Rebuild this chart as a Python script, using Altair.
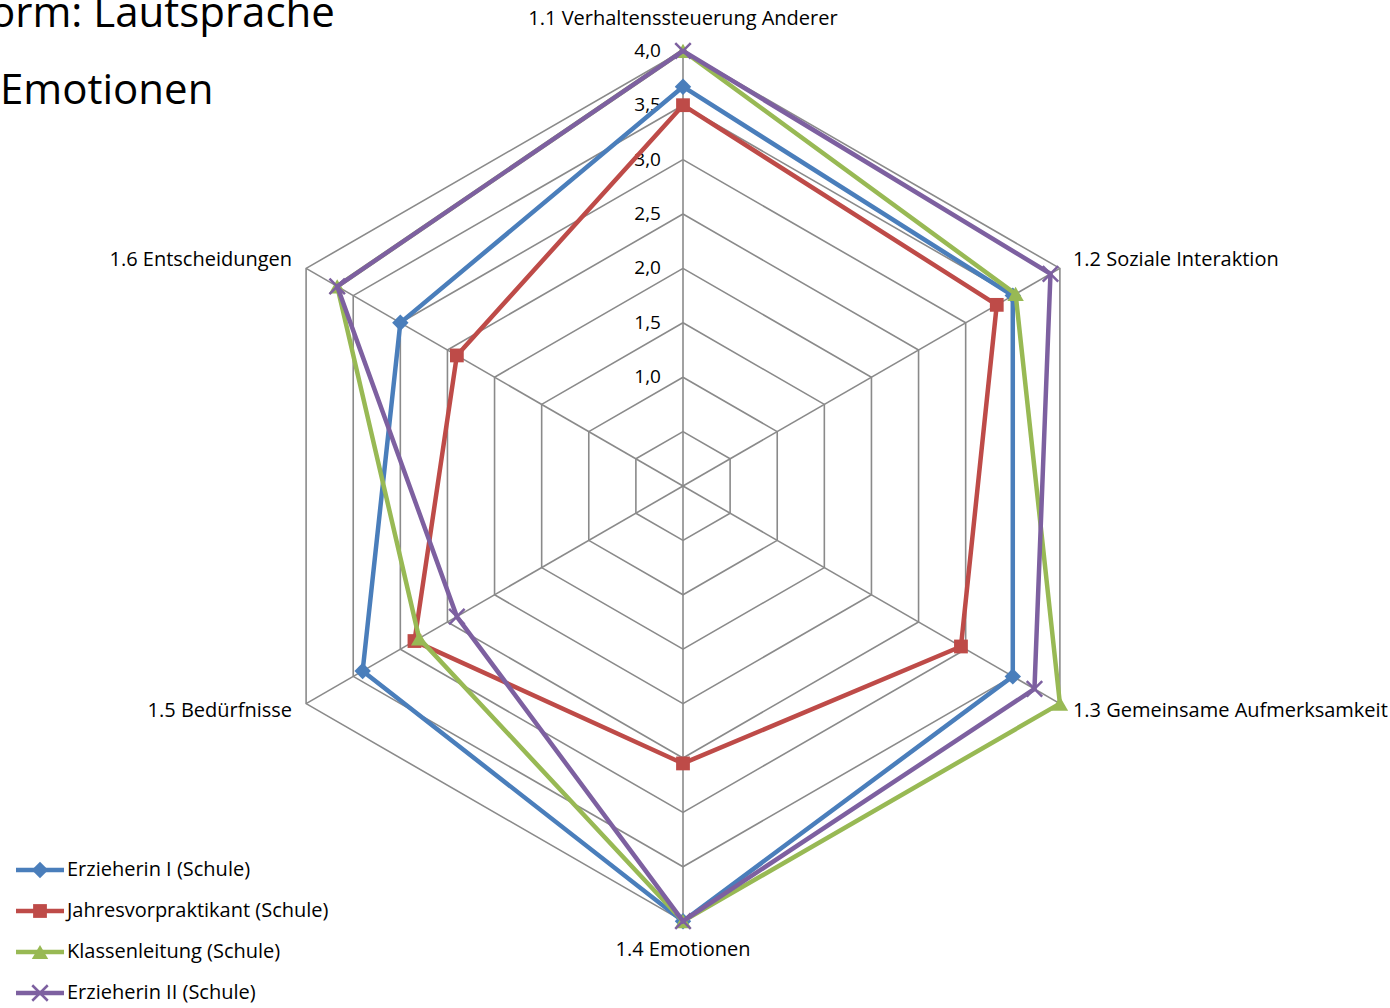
import altair as alt
import pandas as pd

# --- data -------------------------------------------------------------------
categories = [
    "1.1 Verhaltenssteuerung Anderer",
    "1.2 Soziale Interaktion",
    "1.3 Gemeinsame Aufmerksamkeit",
    "1.4 Emotionen",
    "1.5 Bedürfnisse",
    "1.6 Entscheidungen",
]
series = [
    "Erzieherin I (Schule)",
    "Jahresvorpraktikant (Schule)",
    "Klassenleitung (Schule)",
    "Erzieherin II (Schule)",
]
erzieherin_1 = [3.67, 3.5, 3.5, 4.0, 3.4, 3.0]
jahresvorpraktikant = [3.5, 3.33, 2.95, 2.55, 2.85, 2.4]
klassenleitung = [4.0, 3.53, 4.0, 4.0, 2.8, 3.67]
erzieherin_2 = [4.0, 3.9, 3.73, 4.0, 2.4, 3.67]
series_values = [erzieherin_1, jahresvorpraktikant, klassenleitung, erzieherin_2]

ring_levels = [0.5, 1.0, 1.5, 2.0, 2.5, 3.0, 3.5, 4.0]
tick_values = [1.0, 1.5, 2.0, 2.5, 3.0, 3.5, 4.0]
tick_labels = ["1,0", "1,5", "2,0", "2,5", "3,0", "3,5", "4,0"]
axis_max = 4.0

heading_lines = ["orm: Lautsprache", "Emotionen"]

colors = ["#4A7EBB", "#BE4B48", "#98B954", "#7D60A0"]
marker_shapes = ["diamond", "square", "triangle-up", "M-1,-1L1,1M-1,1L1,-1"]
marker_sizes = [270, 190, 270, 240]

# --- layout -----------------------------------------------------------------
W, H = 1390, 1008
CX, CY = 683, 486          # pixel position of the radar centre
UNIT = 108.8               # pixels per score point
FONT = "Open Sans"

xscale = alt.Scale(domain=[-CX / UNIT, (W - CX) / UNIT], nice=False, zero=False)
yscale = alt.Scale(domain=[-(H - CY) / UNIT, CY / UNIT], nice=False, zero=False)
legend_y = alt.Scale(type="point", domain=series, range=[870, 993], padding=0)


def polar(chart):
    """Convert (axis index, value) to cartesian coordinates."""
    return (
        chart.transform_calculate(theta="PI / 2 - datum.axis * PI / 3")
        .transform_calculate(px="datum.value * cos(datum.theta)")
        .transform_calculate(py="datum.value * sin(datum.theta)")
    )


X = alt.X("px:Q", scale=xscale, axis=None)
Y = alt.Y("py:Q", scale=yscale, axis=None)

# --- grid -------------------------------------------------------------------
ring_df = pd.DataFrame(
    [{"level": lv, "axis": i % 6, "value": lv, "step": i} for lv in ring_levels for i in range(7)]
)
rings = polar(alt.Chart(ring_df)).mark_line(color="#8A8A8A", strokeWidth=1.6).encode(
    x=X, y=Y, detail="level:N", order="step:Q"
)

spoke_df = pd.DataFrame({"axis": list(range(6)), "value": [axis_max] * 6})
spokes = (
    polar(alt.Chart(spoke_df))
    .transform_calculate(zero="0")
    .mark_rule(color="#8A8A8A", strokeWidth=1.6)
    .encode(x=X, y=Y, x2="zero:Q", y2="zero:Q")
)

tick_df = pd.DataFrame({"axis": [0] * len(tick_values), "value": tick_values, "label": tick_labels})
ticks = polar(alt.Chart(tick_df)).mark_text(
    align="right", baseline="middle", dx=-22, font=FONT, fontSize=19, color="#000000"
).encode(x=X, y=Y, text="label:N")

# --- category labels --------------------------------------------------------
cat_df = pd.DataFrame({"axis": list(range(6)), "value": [axis_max] * 6, "label": categories})


def cat_layer(idx, **kw):
    return (
        polar(alt.Chart(cat_df))
        .transform_filter(alt.FieldOneOfPredicate(field="axis", oneOf=idx))
        .mark_text(font=FONT, fontSize=20, color="#000000", baseline="middle", **kw)
        .encode(x=X, y=Y, text="label:N")
    )


cat_labels = [
    cat_layer([0], align="center", dy=-32),
    cat_layer([3], align="center", dy=29),
    cat_layer([1], align="left", dx=13, dy=-8),
    cat_layer([2], align="left", dx=13, dy=7),
    cat_layer([4], align="right", dx=-14, dy=7),
    cat_layer([5], align="right", dx=-14, dy=-8),
]

# --- series -----------------------------------------------------------------
series_layers = []
legend_layers = []
for name, vals, col, shp, sz in zip(series, series_values, colors, marker_shapes, marker_sizes):
    df = pd.DataFrame(
        [{"series": name, "axis": i % 6, "value": vals[i % 6], "step": i} for i in range(7)]
    )
    base = polar(alt.Chart(df))
    line = base.mark_line(color=col, strokeWidth=4.5).encode(x=X, y=Y, order="step:Q")
    is_cross = shp.startswith("M")
    pts = (
        base.transform_filter("datum.step < 6")
        .mark_point(
            shape=shp, size=sz, filled=not is_cross, color=col, opacity=1,
            strokeWidth=2.5 if is_cross else 0,
        )
        .encode(x=X, y=Y)
    )
    series_layers += [line, pts]

    ldf = pd.DataFrame({"series": [name]})
    LY = alt.Y("series:N", scale=legend_y, axis=None)
    lrule = alt.Chart(ldf).mark_rule(color=col, strokeWidth=4.5).encode(
        x=alt.value(16), x2=alt.value(64), y=LY
    )
    lpt = alt.Chart(ldf).mark_point(
        shape=shp, size=sz, filled=not is_cross, color=col, opacity=1,
        strokeWidth=2.5 if is_cross else 0,
    ).encode(x=alt.value(40), y=LY)
    ltxt = alt.Chart(ldf).mark_text(
        align="left", baseline="middle", font=FONT, fontSize=20, color="#000000"
    ).encode(x=alt.value(67), y=LY, text="series:N")
    legend_layers += [lrule, lpt, ltxt]

# --- heading fragments ------------------------------------------------------
head_df = pd.DataFrame({"line": heading_lines, "row": [0, 1]})
head1 = alt.Chart(head_df).transform_filter("datum.row == 0").mark_text(
    align="left", baseline="alphabetic", font=FONT, fontSize=42, color="#000000"
).encode(x=alt.value(-10), y=alt.value(27), text="line:N")
head2 = alt.Chart(head_df).transform_filter("datum.row == 1").mark_text(
    align="left", baseline="alphabetic", font=FONT, fontSize=42, color="#000000"
).encode(x=alt.value(0), y=alt.value(104), text="line:N")

chart = (
    alt.layer(rings, spokes, ticks, *cat_labels, *series_layers, *legend_layers, head1, head2)
    .resolve_scale(y="independent")
    .properties(
        width=W,
        height=H,
        autosize=alt.AutoSizeParams(type="none"),
        padding=0,
        background="#FFFFFF",
    )
    .configure_view(stroke=None)
)

chart.save("out.html", embed_options={"renderer": "svg", "actions": False})
